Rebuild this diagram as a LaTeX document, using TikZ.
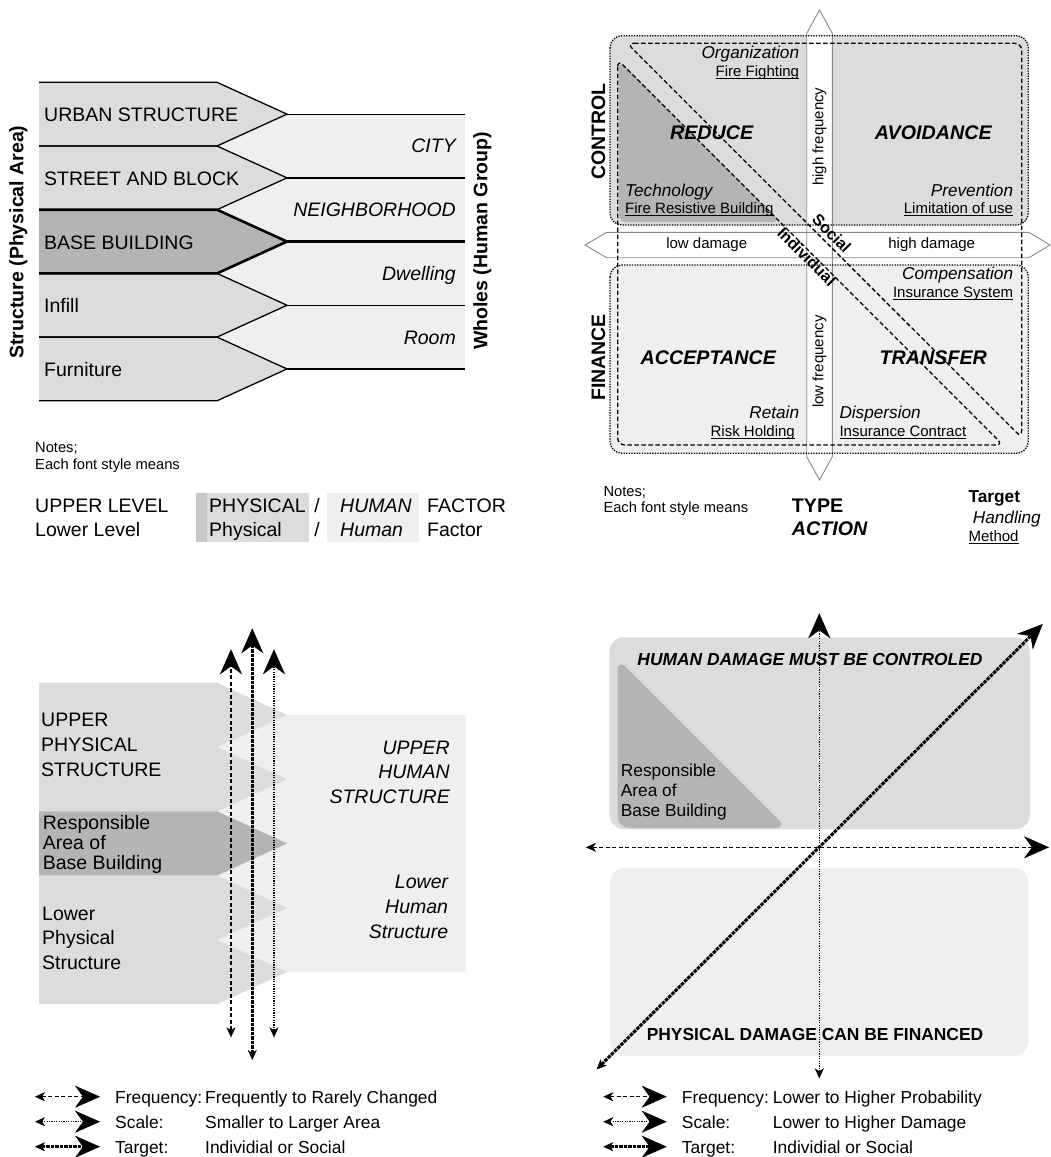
\documentclass[tikz,border=0pt]{standalone}
\usepackage{fontspec}
\setmainfont{Liberation Sans}
\usetikzlibrary{arrows.meta, positioning}

\definecolor{physgray}{HTML}{DCDCDC}
\definecolor{basegray}{HTML}{B4B4B4}
\definecolor{humgray}{HTML}{EFEFEF}
\definecolor{stripgray}{HTML}{C8C8C8}
\definecolor{axisgray}{HTML}{8A8A8A}

\newcommand{\fsz}[1]{\fontsize{#1}{#1}\selectfont}
\newcommand{\ulword}[1]{\setbox0\hbox{#1}\rlap{\rule[-2.4pt]{\wd0}{0.8pt}}\box0}

\tikzset{
  physlabel/.style={inner sep=0pt, font=\fsz{19.5}},
  humlabel/.style={inner sep=0pt, font=\fsz{19.5}\itshape},
  sidelabel/.style={inner sep=0pt, font=\fsz{19.5}\bfseries, rotate=90},
  notetext/.style={inner sep=0pt, font=\fsz{14.7}},
  handletext/.style={inner sep=0pt, font=\fsz{17.2}\itshape},
  methodtext/.style={inner sep=0pt, font=\fsz{15}},
  actiontext/.style={inner sep=0pt, font=\fsz{19.7}\bfseries\itshape},
  typetext/.style={inner sep=0pt, font=\fsz{19.7}\bfseries},
  axistext/.style={inner sep=0pt, font=\fsz{15}},
  bandtext/.style={inner sep=0pt, font=\fsz{16}\bfseries, rotate=-45},
  areatext/.style={inner sep=0pt, font=\fsz{17.3}},
  headtext/.style={inner sep=0pt, font=\fsz{17.4}\bfseries},
  legtext/.style={inner sep=0pt, font=\fsz{17.4}},
  rowline/.style={line width=1.3pt},
  baseedge/.style={line width=2.6pt},
  boxdots/.style={line width=1.3pt, dash pattern=on 1.3pt off 1.3pt},
  bandline/.style={line width=1.3pt, dash pattern=on 4.5pt off 2.5pt},
  axisarrow/.style={fill=white, draw=axisgray, line width=0.9pt},
  freqline/.style={line width=1.3pt, dash pattern=on 4pt off 2.5pt},
  scaleline/.style={line width=1.3pt, dash pattern=on 1.2pt off 1.2pt},
  targetline/.style={line width=3pt, dash pattern=on 3.5pt off 1pt},
  bigtip/.tip={Stealth[length=25pt, width=22pt, inset=8pt, line width=0.4pt]},
  smalltip/.tip={Stealth[length=10pt, width=9pt, inset=3pt, line width=0.4pt]},
}

\begin{document}
\begin{tikzpicture}[x=1pt, y=-1pt]
\useasboundingbox (0,0) rectangle (1050,1157);

% ===== top left: structure against wholes =====
\fill[humgray] (217,114.15) rectangle (465,368.95);
\foreach \i in {0,...,4} {
    \pgfmathsetmacro{\rt}{82.3+63.7*\i}
    \pgfmathsetmacro{\rmid}{\rt+31.85}
    \pgfmathsetmacro{\rb}{\rt+63.7}
    \ifnum\i=2 \def\pc{basegray}\else\def\pc{physgray}\fi
    \fill[\pc] (39,\rt) -- (217,\rt) -- (287,\rmid) -- (217,\rb) -- (39,\rb) -- cycle;
}
\foreach \i in {0,...,4} {
    \pgfmathsetmacro{\rt}{82.3+63.7*\i}
    \pgfmathsetmacro{\rmid}{\rt+31.85}
    \pgfmathsetmacro{\rb}{\rt+63.7}
    \draw[rowline] (39,\rt) -- (217,\rt) -- (287,\rmid) -- (217,\rb) -- (39,\rb);
    \draw[rowline] (287,\rmid) -- (465,\rmid);
}
% base building is outlined heavier
\draw[baseedge] (39,209.7) -- (217,209.7) -- (287,241.55) -- (217,273.4) -- (39,273.4);
\draw[baseedge] (287,241.55) -- (465,241.55);

\foreach \lab [count=\i from 0] in {URBAN STRUCTURE, STREET AND BLOCK, BASE BUILDING, Infill, Furniture} {
    \pgfmathsetmacro{\by}{82.3+63.7*\i+39.4}
    \node[physlabel, anchor=base west] (phys\i) at (44,\by) {\lab};
}
\foreach \lab [count=\i from 0] in {CITY, NEIGHBORHOOD, Dwelling, Room} {
    \pgfmathsetmacro{\by}{82.3+63.7*\i+70.6}
    \node[humlabel, anchor=base east] (hum\i) at (456,\by) {\lab};
}
\node[sidelabel] (structlab) at (18.3,242) {Structure (Physical Area)};
\node[sidelabel] (wholeslab) at (482.3,241) {Wholes (Human Group)};

% notes, left
\node[notetext, anchor=base west] (notesl) at (35,452) {Notes;};
\node[notetext, anchor=base west] (eachl) at (35,469) {Each font style means};
\fill[stripgray] (196,492.7) rectangle (207.3,541.7);
\fill[physgray] (207.3,492.7) rectangle (309,541.7);
\fill[humgray] (326.7,492.7) rectangle (419.3,541.7);
\foreach \lev/\ph/\hu/\fa/\by in {UPPER LEVEL/PHYSICAL/HUMAN/FACTOR/512.7, Lower Level/Physical/Human/Factor/536} {
    \node[physlabel, anchor=base west] at (35,\by) {\lev};
    \node[physlabel, anchor=base west] at (209,\by) {\ph};
    \node[physlabel, anchor=base] at (317,\by) {/};
    \node[humlabel, anchor=base west] at (340,\by) {\hu};
    \node[physlabel, anchor=base west] at (427,\by) {\fa};
}

% ===== top right: risk handling =====
\fill[physgray, rounded corners=12] (610,35.7) rectangle (1028.3,225);
\fill[humgray, rounded corners=12] (610,265) rectangle (1028.3,453.3);
\fill[basegray, rounded corners=7] (619,61) -- (619,222) -- (780,222) -- cycle;

\fill[white] (585,245) -- (606.7,232.3) -- (1029,232.3) -- (1050,245) -- (1029,257.7) -- (606.7,257.7) -- cycle;
\fill[white] (819.5,10) -- (832.3,33.3) -- (832.3,456.7) -- (819.5,480) -- (806.7,456.7) -- (806.7,33.3) -- cycle;
\draw[axisarrow, fill=none] (585,245) -- (606.7,232.3) -- (1029,232.3) -- (1050,245) -- (1029,257.7) -- (606.7,257.7) -- cycle;
\draw[axisarrow, fill=none] (819.5,10) -- (832.3,33.3) -- (832.3,456.7) -- (819.5,480) -- (806.7,456.7) -- (806.7,33.3) -- cycle;

\draw[boxdots, rounded corners=12] (610,35.7) rectangle (1028.3,225);
\draw[boxdots, rounded corners=12] (610,265) rectangle (1028.3,453.3);
% social / individual bands
\draw[bandline, rounded corners=7] (627,43.3) -- (1021.7,43.3) -- (1021.7,437.7) -- cycle;
\draw[bandline, rounded corners=7] (617.7,59.7) -- (617.7,445) -- (1003,445) -- cycle;

\node[sidelabel] (control) at (598.3,131.7) {CONTROL};
\node[sidelabel] (finance) at (598.3,357.5) {FINANCE};
\node[axistext, rotate=90] (highfreq) at (819.5,136.7) {high frequency};
\node[axistext, rotate=90] (lowfreq) at (819.5,361.7) {low frequency};
\node[axistext] (lowdam) at (706.7,245) {low damage};
\node[axistext] (highdam) at (931.7,245) {high damage};
\node[bandtext] (social) at (831.7,233.3) {Social};
\node[bandtext] (indiv) at (806.7,256.7) {Individual};

\node[actiontext, anchor=base] (reduce) at (711.7,139.3) {REDUCE};
\node[actiontext, anchor=base] (avoid) at (933.3,139.3) {AVOIDANCE};
\node[actiontext, anchor=base] (accept) at (708.3,364) {ACCEPTANCE};
\node[actiontext, anchor=base] (transfer) at (933.3,364) {TRANSFER};

\node[handletext, anchor=base east] (organ) at (799.3,58.5) {Organization};
\node[methodtext, anchor=base east] (firefight) at (799.3,76) {\ulword{Fire Fighting}};
\node[handletext, anchor=base west] (techno) at (625,196.7) {Technology};
\node[methodtext, anchor=base west] (fireres) at (625,213.3) {\ulword{Fire Resistive Building}};
\node[handletext, anchor=base east] (prevent) at (1013.3,196.7) {Prevention};
\node[methodtext, anchor=base east] (limit) at (1013.3,213.3) {\ulword{Limitation of use}};
\node[handletext, anchor=base east] (compens) at (1013.3,279.3) {Compensation};
\node[methodtext, anchor=base east] (inssys) at (1013.3,297.7) {\ulword{Insurance System}};
\node[handletext, anchor=base east] (retain) at (799.3,418.3) {Retain};
\node[methodtext, anchor=base east] (riskhold) at (795,436) {\ulword{Risk Holding}};
\node[handletext, anchor=base west] (dispers) at (839.3,418.3) {Dispersion};
\node[methodtext, anchor=base west] (inscont) at (839.3,436) {\ulword{Insurance Contract}};

% notes, right
\node[notetext, anchor=base west] (notesr) at (603.3,496) {Notes;};
\node[notetext, anchor=base west] (eachr) at (603.3,512.7) {Each font style means};
\node[typetext, anchor=base west] (typelab) at (791.7,512.3) {TYPE};
\node[actiontext, anchor=base west] (actionlab) at (791.7,535.7) {ACTION};
\node[inner sep=0pt, font=\fsz{17.3}\bfseries, anchor=base west] (targetlab) at (968.3,502.7) {Target};
\node[handletext, anchor=base west] (handlelab) at (972.7,523.3) {Handling};
\node[methodtext, anchor=base west] (methodlab) at (968.3,541) {\ulword{Method}};

% ===== bottom left: responsible area of base building =====
\fill[humgray] (217,714.85) rectangle (466,972.05);
\foreach \i in {0,...,4} {
    \pgfmathsetmacro{\rt}{682.7+64.3*\i}
    \pgfmathsetmacro{\rmid}{\rt+32.15}
    \pgfmathsetmacro{\rb}{\rt+64.3}
    \ifnum\i=2 \def\pc{basegray}\else\def\pc{physgray}\fi
    \fill[\pc] (39,\rt) -- (217,\rt) -- (287,\rmid) -- (217,\rb) -- (39,\rb) -- cycle;
}
\foreach \t [count=\k from 0] in {UPPER, PHYSICAL, STRUCTURE}
    \node[physlabel, anchor=base west] (upphys\k) at (41,{726+25*\k}) {\t};
\foreach \t [count=\k from 0] in {Responsible, Area of, Base Building}
    \node[physlabel, anchor=base west] (resp\k) at (42.7,{829.3+20*\k}) {\t};
\foreach \t [count=\k from 0] in {Lower, Physical, Structure}
    \node[physlabel, anchor=base west] (lowphys\k) at (42,{920+24.7*\k}) {\t};
\foreach \t [count=\k from 0] in {UPPER, HUMAN, STRUCTURE}
    \node[humlabel, anchor=base east] (uphum\k) at (450,{754+24.7*\k}) {\t};
\foreach \t [count=\k from 0] in {Lower, Human, Structure}
    \node[humlabel, anchor=base east] (lowhum\k) at (448.3,{888.3+25*\k}) {\t};

\coordinate (fqbot) at (231,1037.3);
\coordinate (fqtop) at (231,649.3);
\coordinate (tgbot) at (252.3,1060);
\coordinate (tgtop) at (252.3,628.3);
\coordinate (scbot) at (274,1037.3);
\coordinate (sctop) at (274,649.3);
\draw[freqline, arrows={smalltip-bigtip}] (fqbot) -- (fqtop);
\draw[targetline, arrows={smalltip-bigtip}] (tgbot) -- (tgtop);
\draw[scaleline, arrows={smalltip-bigtip}] (scbot) -- (sctop);

% legend, left
\foreach \sty/\key/\val [count=\k from 0] in {freqline/Frequency:/Frequently to Rarely Changed, scaleline/Scale:/Smaller to Larger Area, targetline/Target:/Individial or Social} {
    \pgfmathsetmacro{\ly}{1096.7+25*\k}
    \coordinate (legla\k) at (35,\ly);
    \coordinate (leglb\k) at (100,\ly);
    \draw[\sty, arrows={smalltip-bigtip}] (legla\k) -- (leglb\k);
    \node[legtext, anchor=base west] (leglk\k) at (115,\ly+6.6) {\key};
    \node[legtext, anchor=base west] (leglv\k) at (205,\ly+6.6) {\val};
}

% ===== bottom right: damage map =====
\fill[physgray, rounded corners=15] (609.3,637.3) rectangle (1030,829.3);
\fill[basegray, rounded corners=12] (617.5,658.5) -- (617.5,828) -- (787,828) -- cycle;
\fill[humgray, rounded corners=15] (610,867.7) rectangle (1028.3,1056);

\node[headtext, font=\fsz{17.4}\bfseries\itshape, anchor=base] (humdam) at (810,665) {HUMAN DAMAGE MUST BE CONTROLED};
\node[headtext, anchor=base] (physdam) at (815,1040.7) {PHYSICAL DAMAGE CAN BE FINANCED};
\foreach \t [count=\k from 0] in {Responsible, Area of, Base Building}
    \node[areatext, anchor=base west] (respr\k) at (620.7,{776+20*\k}) {\t};

\coordinate (dmleft) at (586,847.3);
\coordinate (dmright) at (1049,847.3);
\coordinate (dmbot) at (819.3,1078.3);
\coordinate (dmtop) at (819.3,613.3);
\coordinate (dmsw) at (596.7,1069.3);
\coordinate (dmne) at (1042.7,624);
\draw[freqline, arrows={smalltip-bigtip}] (dmleft) -- (dmright);
\draw[scaleline, arrows={smalltip-bigtip}] (dmbot) -- (dmtop);
\draw[targetline, arrows={smalltip-bigtip}] (dmsw) -- (dmne);

% legend, right
\foreach \sty/\key/\val [count=\k from 0] in {freqline/Frequency:/Lower to Higher Probability, scaleline/Scale:/Lower to Higher Damage, targetline/Target:/Individial or Social} {
    \pgfmathsetmacro{\ly}{1096.7+25*\k}
    \coordinate (legra\k) at (603.3,\ly);
    \coordinate (legrb\k) at (666.7,\ly);
    \draw[\sty, arrows={smalltip-bigtip}] (legra\k) -- (legrb\k);
    \node[legtext, anchor=base west] (legrk\k) at (681.7,\ly+6.6) {\key};
    \node[legtext, anchor=base west] (legrv\k) at (772.7,\ly+6.6) {\val};
}
\end{tikzpicture}
\end{document}
